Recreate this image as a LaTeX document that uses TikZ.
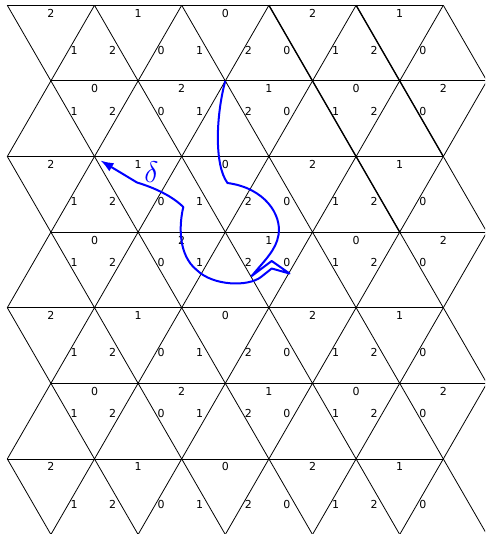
\documentclass[tikz,border=0pt]{standalone}
\usepackage{fontspec}
\usepackage{graphicx}
\newfontfamily\lblfont{DejaVu Sans}
\usetikzlibrary{arrows.meta}
\begin{document}
\begin{tikzpicture}[x=1pt,y=-1pt,
  gridline/.style={black,line width=0.8pt},
  gridbold/.style={black,line width=1.35pt},
  lbl/.style={font=\lblfont\fontsize{11}{12}\selectfont,text=black,inner sep=0pt},
  pathline/.style={blue,line width=2pt,line join=round},
]
\useasboundingbox (0,0) rectangle (485,534);
\clip (0,0) rectangle (485,534);
% horizontal lines
\foreach \r in {0,2,4,6}{
  \pgfmathsetmacro\yy{5.3+75.6*\r}
  \draw[gridline] (7.3,\yy) -- (443.3,\yy);
}
\foreach \r in {1,3,5}{
  \pgfmathsetmacro\yy{5.3+75.6*\r}
  \draw[gridline] (50.9,\yy) -- (486.9,\yy);
}
% slanted lines
\foreach \b in {0,2,4,6}{
  \pgfmathsetmacro\yy{5.3+75.6*\b}
  \foreach \j in {0,...,5}{
    \pgfmathsetmacro\xx{7.3+87.2*\j}
    \draw[gridline] (\xx,\yy) -- ++(43.6,75.6);
  }
  \foreach \j in {1,...,5}{
    \pgfmathsetmacro\xx{7.3+87.2*\j}
    \draw[gridline] (\xx,\yy) -- ++(-43.6,75.6);
  }
}
\foreach \b in {1,3,5}{
  \pgfmathsetmacro\yy{5.3+75.6*\b}
  \foreach \j in {0,...,5}{
    \pgfmathsetmacro\xx{50.9+87.2*\j}
    \draw[gridline] (\xx,\yy) -- ++(-43.6,75.6);
  }
  \foreach \j in {0,...,4}{
    \pgfmathsetmacro\xx{50.9+87.2*\j}
    \draw[gridline] (\xx,\yy) -- ++(43.6,75.6);
  }
}
% bolder diagonals
\draw[gridbold] (268.9,5.3) -- (399.7,232.1);
\draw[gridbold] (356.1,5.3) -- (443.3,156.5);
% labels of horizontal edges
\foreach \r in {0,2,4,6}{
  \pgfmathsetmacro\yy{5.3+75.6*\r+8}
  \foreach \t [count=\j from 0] in {2,1,0,2,1}{
    \pgfmathsetmacro\xx{50.9+87.2*\j}
    \node[lbl] (h-\r-\j) at (\xx,\yy) {\t};
  }
}
\foreach \r in {1,3,5}{
  \pgfmathsetmacro\yy{5.3+75.6*\r+8}
  \foreach \t [count=\j from 0] in {0,2,1,0,2}{
    \pgfmathsetmacro\xx{94.5+87.2*\j}
    \node[lbl] (h-\r-\j) at (\xx,\yy) {\t};
  }
}
% labels of slanted edges
\foreach \r/\d/\n in {1/-30.5/a,1/30.5/b,3/-30.5/c,3/30.5/d,5/-30.5/e,5/30.5/f,7/-30.5/g}{
  \pgfmathsetmacro\yy{5.3+75.6*\r+\d}
  \foreach \t [count=\j from 0] in {1,0,2,1,0}{
    \pgfmathsetmacro\xx{94.5+87.2*\j-20.5}
    \node[lbl] (l-\n-\j) at (\xx,\yy) {\t};
  }
  \foreach \t [count=\j from 0] in {2,1,0,2}{
    \pgfmathsetmacro\xx{94.5+87.2*\j+18}
    \node[lbl] (r-\n-\j) at (\xx,\yy) {\t};
  }
}
% blue path delta
\coordinate (start) at (225.3,80.9);
\coordinate (tip) at (100.5,160.5);
\draw[pathline,-{Latex[length=13pt,width=9.5pt]}] (start)
  .. controls (216,115) and (214,165) .. (227.5,183)
  .. controls (265,188) and (282,215) .. (278.5,235)
  .. controls (276,250) and (265,260) .. (251.7,276)
  -- (271.7,261) -- (289.5,273.5) -- (271.7,268.5) -- (261,277)
  .. controls (248,287) and (213,286) .. (196.7,270)
  .. controls (178,255) and (179,225) .. (183.3,207)
  .. controls (172,196) and (155,188) .. (137,182.5)
  -- (tip);
\node[text=blue,inner sep=0pt] (delta) at (151.5,172.5) {\scalebox{1.2}{\Huge$\delta$}};
\end{tikzpicture}
\end{document}
